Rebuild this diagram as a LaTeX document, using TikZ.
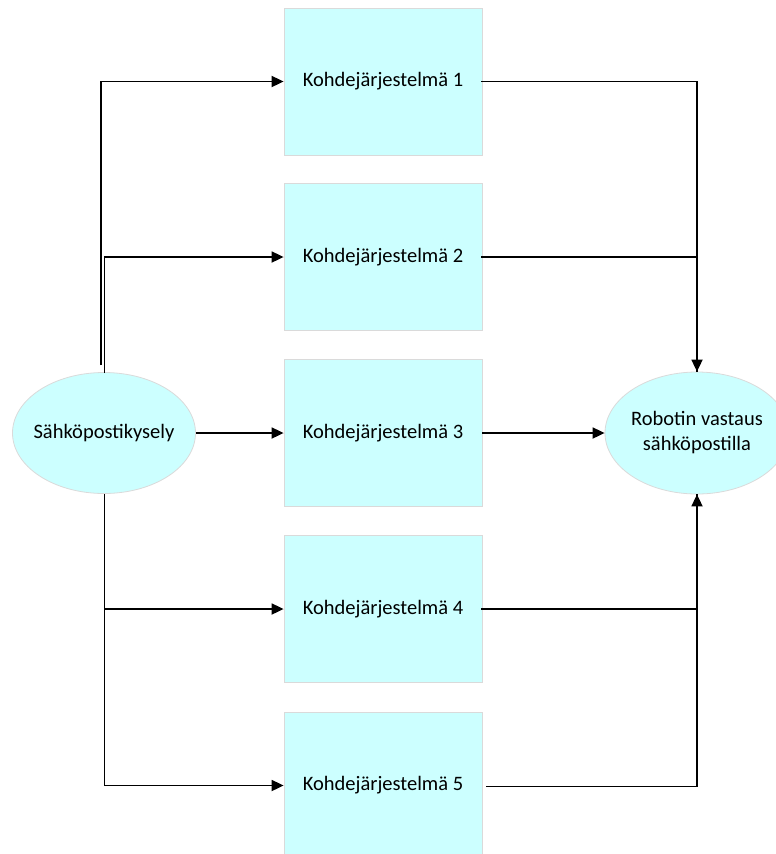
\documentclass[tikz,border=0pt]{standalone}
\usepackage{fontspec}
\setmainfont{Carlito}
\usetikzlibrary{arrows.meta,shapes.geometric}
\definecolor{boxfill}{HTML}{CCFFFF}
\definecolor{boxline}{HTML}{DADADA}
\begin{document}
\begin{tikzpicture}[x=1pt,y=-1pt,
  sysbox/.style={draw=boxline,line width=0.8pt,fill=boxfill,minimum width=198pt,minimum height=147pt,inner sep=0pt,font=\fontsize{20.5}{25}\selectfont},
  oval/.style={ellipse,draw=boxline,line width=0.8pt,fill=boxfill,inner sep=0pt},
  ovaltext/.style={font=\fontsize{20.5}{25}\selectfont,align=center,inner sep=0pt},
  conn/.style={line width=1.8pt,black},
  arr/.style={conn,-{Triangle[length=12pt,width=11pt]}}]
\useasboundingbox (0,0) rectangle (776,854);
\node[sysbox] (b1) at (383,81.5) {Kohdejärjestelmä 1};
\node[sysbox] (b2) at (383,257) {Kohdejärjestelmä 2};
\node[sysbox] (b3) at (383,433) {Kohdejärjestelmä 3};
\node[sysbox] (b4) at (383,609) {Kohdejärjestelmä 4};
\node[sysbox] (b5) at (383,785.5) {Kohdejärjestelmä 5};
\node[oval,minimum width=183pt,minimum height=121pt] (q) at (104,433) {};
\node[ovaltext] (qt) at (q.center) {Sähköpostikysely};
\node[oval,minimum width=184pt,minimum height=122pt] (r) at (697,433) {};
\node[ovaltext] (rt) at (r.center) {Robotin vastaus\\sähköpostilla};
% left side
\coordinate (l1) at (101,365);
\coordinate (l2) at (104.5,373);
\coordinate (l3) at (104.5,494);
\draw[arr] (l1) |- (b1.west);
\draw[arr] (l2) |- (b2.west);
\draw[arr] (q.east) -- (b3.west);
\draw[arr] (l3) |- (b4.west);
\draw[arr] (l3) |- (b5.west);
% right side
\coordinate (r1) at (481,81.5);
\coordinate (r2) at (481,257);
\coordinate (r4) at (481,609);
\coordinate (r5) at (486,786.5);
\draw[conn] (r2) -| (r.north);
\draw[arr] (r1) -| (r.north);
\draw[arr] (b3.east) -- (r.west);
\draw[conn] (r4) -| (r.south);
\draw[arr] (r5) -| (r.south);
\end{tikzpicture}
\end{document}
